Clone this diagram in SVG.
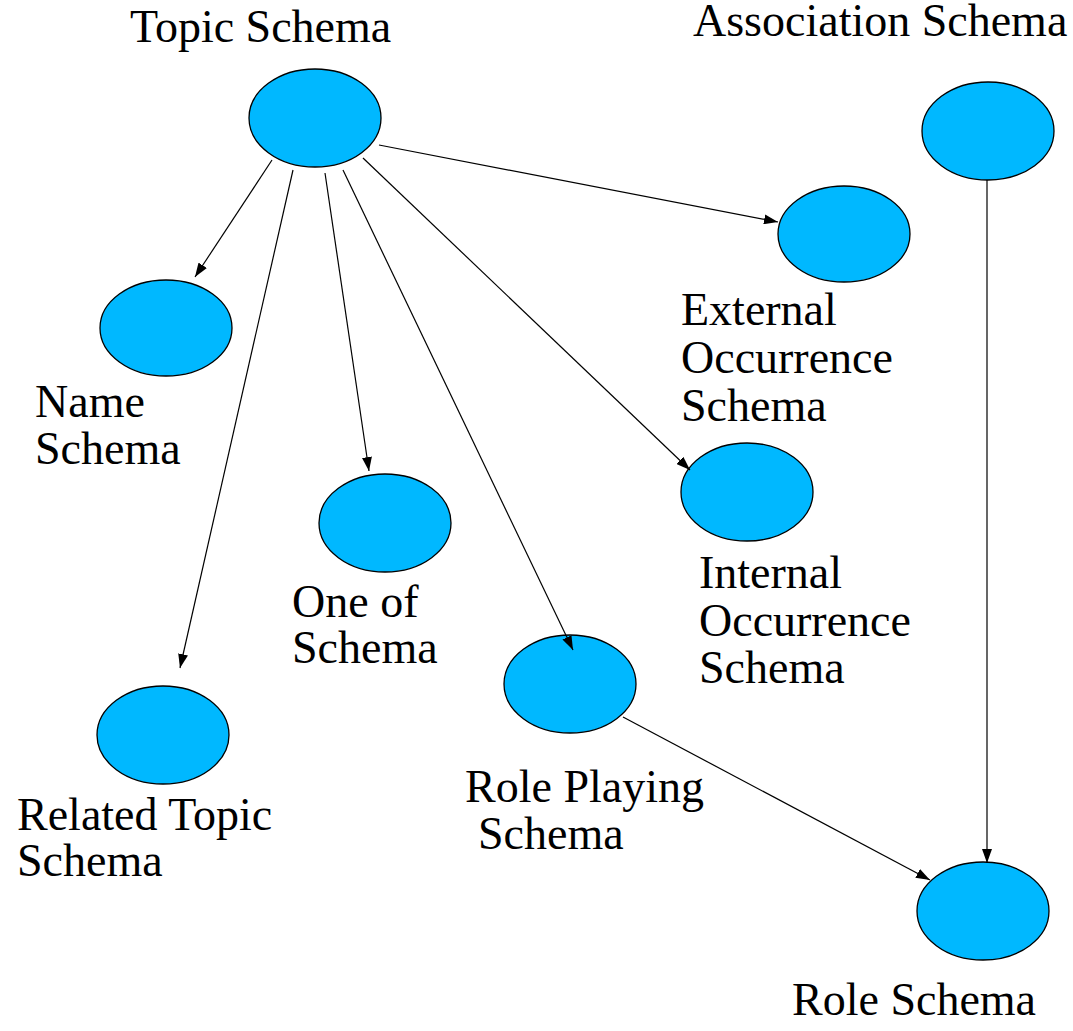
<svg xmlns="http://www.w3.org/2000/svg" width="1073" height="1031" viewBox="0 0 1073 1031">
<style>
.n{fill:#00b8ff;stroke:#000;stroke-width:1.3}
.t{font-size:46px;fill:#000}
.c line{stroke:#000;stroke-width:1.2;marker-end:url(#ah)}
</style>
<defs>
<marker id="ah" viewBox="0 0 14 10" refX="14" refY="5" markerWidth="14" markerHeight="10" markerUnits="userSpaceOnUse" orient="auto">
<path d="M0,0L14,5L0,10z" fill="#000"/>
</marker>
</defs>
<rect width="1073" height="1031" fill="#fff"/>
<g font-family="Liberation Serif, Times New Roman, DejaVu Serif, serif">
<g id="topic"><ellipse class="n" cx="315" cy="118" rx="66" ry="49"/><text class="t" x="130" y="42">Topic Schema</text></g>
<g id="association"><ellipse class="n" cx="988" cy="131" rx="66" ry="49"/><text class="t" x="693" y="36">Association Schema</text></g>
<g id="external"><ellipse class="n" cx="844" cy="234" rx="66" ry="48"/><text class="t" x="681" y="325">External</text><text class="t" x="681" y="373">Occurrence</text><text class="t" x="681" y="421">Schema</text></g>
<g id="name"><ellipse class="n" cx="166" cy="328" rx="66" ry="48"/><text class="t" x="35" y="417">Name</text><text class="t" x="35" y="464">Schema</text></g>
<g id="oneof"><ellipse class="n" cx="385" cy="523" rx="66" ry="49"/><text class="t" x="292" y="617">One of</text><text class="t" x="292" y="663">Schema</text></g>
<g id="internal"><ellipse class="n" cx="747" cy="492" rx="66" ry="49"/><text class="t" x="699" y="588">Internal</text><text class="t" x="699" y="636">Occurrence</text><text class="t" x="699" y="683">Schema</text></g>
<g id="roleplaying"><ellipse class="n" cx="570" cy="684" rx="66" ry="49"/><text class="t" x="465" y="802">Role Playing</text><text class="t" x="478" y="849">Schema</text></g>
<g id="related"><ellipse class="n" cx="163" cy="735" rx="66" ry="49"/><text class="t" x="17" y="830">Related Topic</text><text class="t" x="17" y="876">Schema</text></g>
<g id="role"><ellipse class="n" cx="983" cy="911" rx="66" ry="49"/><text class="t" x="792" y="1015">Role Schema</text></g>
</g>
<g class="c" id="connectors">
<line x1="272" y1="160" x2="195" y2="277"/>
<line x1="293" y1="170" x2="180" y2="668"/>
<line x1="325" y1="173" x2="369" y2="471"/>
<line x1="343" y1="170" x2="573" y2="650"/>
<line x1="363" y1="158" x2="690" y2="470"/>
<line x1="379" y1="145" x2="778" y2="222"/>
<line x1="623" y1="717" x2="930" y2="880"/>
<line x1="987" y1="180" x2="987" y2="863"/>
</g>
</svg>
